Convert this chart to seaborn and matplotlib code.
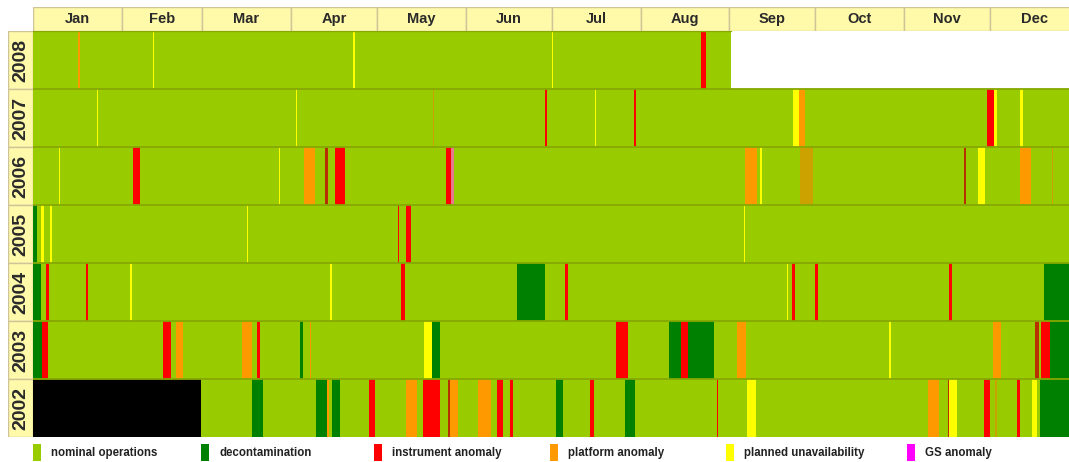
import numpy as np
import matplotlib
matplotlib.use("Agg")
import matplotlib.pyplot as plt
import seaborn as sns
from matplotlib.colors import ListedColormap
from matplotlib.patches import Rectangle

# ---------------- data ----------------
years = ["2008", "2007", "2006", "2005", "2004", "2003", "2002"]
months = ["Jan", "Feb", "Mar", "Apr", "May", "Jun", "Jul", "Aug", "Sep", "Oct", "Nov", "Dec"]
month_starts = [0, 31, 59, 90, 120, 151, 181, 212, 243, 273, 304, 334, 365]

status_names = ["nominal operations", "decontamination", "instrument anomaly",
                "platform anomaly", "planned unavailability", "GS anomaly",
                "no data", "future", "mixed", "dark anomaly", "pink"]
status_colors = ["#99CC00", "#008000", "#FF0000", "#FF9900", "#FFFF00", "#FF00FF",
                 "#000000", "#FFFFFF", "#CCA200", "#B83000", "#E6788E"]
legend_names = status_names[:6]

# events per year: (start day, end day, status)
events_2008 = [(15.7, 16.5, "platform anomaly"), (41.8, 42.3, "planned unavailability"),
               (111.7, 112.2, "planned unavailability"), (181.1, 181.6, "planned unavailability"),
               (233.2, 234.8, "instrument anomaly"), (243.5, 366, "future")]
events_2007 = [(22.2, 22.7, "planned unavailability"), (91.7, 92.2, "planned unavailability"),
               (139.4, 139.9, "mixed"), (178.5, 179.2, "instrument anomaly"),
               (196.0, 196.5, "planned unavailability"), (209.7, 210.4, "instrument anomaly"),
               (265.3, 267.3, "planned unavailability"), (267.3, 269.4, "platform anomaly"),
               (332.7, 335.3, "instrument anomaly"), (335.3, 336.5, "planned unavailability"),
               (344.3, 345.6, "planned unavailability")]
events_2006 = [(9.0, 9.5, "planned unavailability"), (35.0, 37.5, "instrument anomaly"),
               (85.7, 86.2, "planned unavailability"), (94.6, 98.5, "platform anomaly"),
               (102.0, 102.9, "dark anomaly"), (105.4, 109.0, "instrument anomaly"),
               (144.1, 145.9, "instrument anomaly"), (145.9, 147.0, "pink"),
               (248.6, 252.6, "platform anomaly"), (253.6, 254.2, "planned unavailability"),
               (267.6, 272.0, "mixed"), (324.8, 325.6, "dark anomaly"),
               (329.7, 332.3, "planned unavailability"), (344.3, 348.2, "platform anomaly"),
               (355.5, 356.0, "mixed")]
events_2005 = [(0.0, 1.35, "decontamination"), (2.7, 3.9, "planned unavailability"),
               (6.0, 6.5, "planned unavailability"), (74.6, 75.1, "planned unavailability"),
               (127.3, 127.8, "instrument anomaly"), (130.3, 131.7, "instrument anomaly"),
               (247.9, 248.4, "planned unavailability")]
events_2004 = [(0.0, 2.7, "decontamination"), (4.5, 5.7, "instrument anomaly"),
               (18.5, 19.3, "instrument anomaly"), (34.0, 34.5, "planned unavailability"),
               (103.7, 104.2, "planned unavailability"), (128.2, 129.7, "instrument anomaly"),
               (169.0, 178.8, "decontamination"), (185.4, 186.4, "instrument anomaly"),
               (262.9, 263.4, "planned unavailability"), (264.8, 266.0, "instrument anomaly"),
               (273.0, 273.9, "instrument anomaly"), (319.8, 320.7, "instrument anomaly"),
               (352.7, 366.0, "decontamination")]
events_2003 = [(0.0, 3.15, "decontamination"), (3.15, 5.3, "instrument anomaly"),
               (45.6, 48.2, "instrument anomaly"), (49.8, 52.2, "platform anomaly"),
               (73.0, 76.6, "platform anomaly"), (78.0, 79.2, "instrument anomaly"),
               (93.0, 94.2, "decontamination"), (96.4, 96.9, "platform anomaly"),
               (136.5, 139.3, "planned unavailability"), (139.3, 142.0, "decontamination"),
               (203.6, 207.6, "instrument anomaly"), (222.0, 226.2, "decontamination"),
               (226.2, 228.6, "instrument anomaly"), (228.6, 237.8, "decontamination"),
               (245.6, 248.7, "platform anomaly"), (298.8, 299.3, "planned unavailability"),
               (335.0, 337.7, "platform anomaly"), (349.7, 350.9, "dark anomaly"),
               (351.8, 354.8, "instrument anomaly"), (354.8, 366.0, "decontamination")]
events_2002 = [(0.0, 58.8, "no data"), (76.6, 80.2, "decontamination"),
               (98.7, 102.4, "decontamination"), (102.6, 103.2, "platform anomaly"),
               (104.2, 106.9, "decontamination"), (117.3, 119.2, "instrument anomaly"),
               (130.0, 133.9, "platform anomaly"), (136.3, 142.0, "instrument anomaly"),
               (144.7, 145.4, "dark anomaly"), (145.4, 148.3, "platform anomaly"),
               (155.3, 159.7, "platform anomaly"), (161.9, 163.9, "instrument anomaly"),
               (166.6, 167.5, "instrument anomaly"), (182.5, 185.0, "decontamination"),
               (194.4, 195.7, "instrument anomaly"), (206.4, 210.0, "decontamination"),
               (238.5, 239.1, "instrument anomaly"), (249.0, 252.2, "planned unavailability"),
               (312.3, 316.2, "platform anomaly"), (319.2, 319.7, "dark anomaly"),
               (319.8, 322.2, "planned unavailability"), (331.7, 334.1, "instrument anomaly"),
               (335.7, 336.2, "mixed"), (343.4, 344.6, "instrument anomaly"),
               (348.5, 350.3, "planned unavailability"), (351.2, 366.0, "decontamination")]

all_events = [events_2008, events_2007, events_2006, events_2005,
              events_2004, events_2003, events_2002]

# ---------------- grid ----------------
BINS = 4
ndays = 365
grid = np.zeros((len(years), ndays * BINS))
code = {n: i for i, n in enumerate(status_names)}
for r, evs in enumerate(all_events):
    for s, e, name in evs:
        i0 = int(round(s * BINS))
        i1 = max(i0 + 1, int(round(e * BINS)))
        grid[r, i0:i1] = code[name]

W, H = 1069, 462
fig = plt.figure(figsize=(W / 100, H / 100), dpi=100)
sns.set_style("white")

px_per_day = 2.866
x0 = 33
x1 = x0 + ndays * px_per_day          # extends slightly past the right edge (cropped)
y_top, y_bot = 31, 437
ax = fig.add_axes([x0 / W, 1 - y_bot / H, (x1 - x0) / W, (y_bot - y_top) / H])
cmap = ListedColormap(status_colors)
sns.heatmap(grid, ax=ax, cmap=cmap, vmin=-0.5, vmax=len(status_names) - 0.5,
            cbar=False, xticklabels=False, yticklabels=False)
for r in range(1, len(years)):
    ax.axhline(r, color="#86A800", lw=1.3)
ax.axhline(0, color="#86A800", lw=1.0, xmax=243.5 / ndays)
for sp in ax.spines.values():
    sp.set_visible(False)

beige = "#FFF9AA"
edge = "#CFC497"

# month header
axh = fig.add_axes([x0 / W, 1 - y_top / H, (x1 - x0) / W, 24 / H])
axh.set_xlim(0, ndays)
axh.set_ylim(0, 1)
axh.axis("off")
for i, m in enumerate(months):
    s, e = month_starts[i], month_starts[i + 1]
    axh.add_patch(Rectangle((s, 0), e - s, 1, facecolor=beige, edgecolor=edge, lw=1.0))
    axh.text((s + e) / 2, 0.5, m, ha="center", va="center", fontsize=10.5,
             fontweight="bold", family="Liberation Sans", color="#2a2a2a")

# year column
axy = fig.add_axes([8 / W, 1 - y_bot / H, 25 / W, (y_bot - y_top) / H])
axy.set_xlim(0, 1)
axy.set_ylim(len(years), 0)
axy.axis("off")
for r, yname in enumerate(years):
    axy.add_patch(Rectangle((0, r), 1, 1, facecolor=beige, edgecolor=edge, lw=1.0))
    axy.text(0.5, r + 0.5, yname, rotation=90, ha="center", va="center", fontsize=14,
             fontweight="bold", family="Liberation Sans", color="#2a2a2a")

# legend
axl = fig.add_axes([0, 0, 1, 25 / H])
axl.set_xlim(0, W)
axl.set_ylim(25, 0)
axl.axis("off")
leg_x = [33, 201, 374, 550, 726, 907]
for xx, name in zip(leg_x, legend_names):
    axl.add_patch(Rectangle((xx, 444 - 437), 8, 17, facecolor=status_colors[code[name]],
                            edgecolor="none"))
    axl.text(xx + 18, 453 - 437, name, ha="left", va="center", fontsize=8.3,
             fontweight="bold", family="Liberation Sans", color="#222222")

fig.savefig("out.png", dpi=100)
